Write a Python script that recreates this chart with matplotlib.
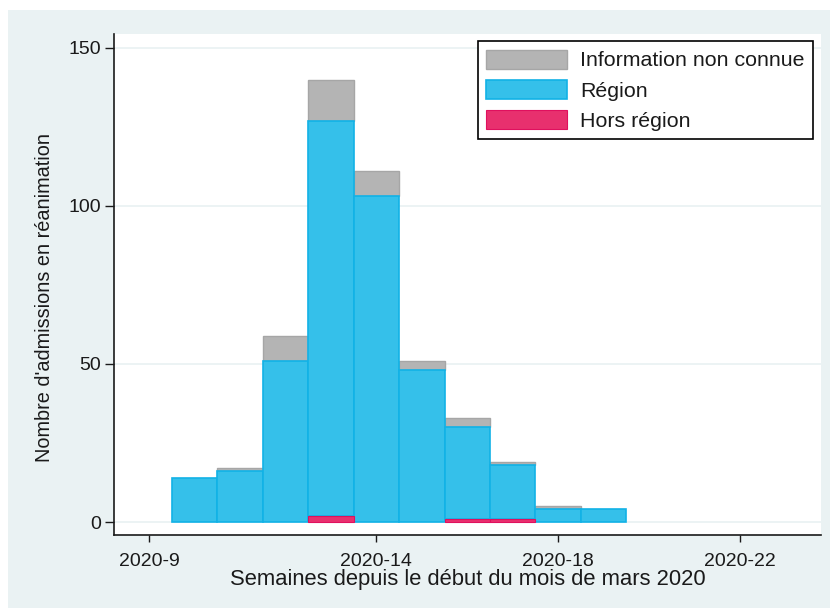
import matplotlib
matplotlib.use("Agg")
import matplotlib.pyplot as plt
from matplotlib.patches import Rectangle
import numpy as np

plt.rcParams['font.family'] = ['Liberation Sans', 'DejaVu Sans']

weeks = [10, 11, 12, 13, 14, 15, 16, 17, 18, 19]
hors_region = [0, 0, 0, 2, 0, 0, 1, 1, 0, 0]
region = [14, 16, 51, 125, 103, 48, 29, 17, 4, 4]
inconnue = [0, 1, 8, 13, 8, 3, 3, 1, 1, 0]

tick_pos = [9, 14, 18, 22]
tick_labels = ["2020-9", "2020-14", "2020-18", "2020-22"]
y_ticks = [0, 50, 100, 150]

W, H = 830, 608
fig = plt.figure(figsize=(W / 100, H / 100), dpi=100, facecolor='white')
bg = '#eaf2f3'
fig.patches.append(Rectangle((8 / W, 0), 1 - 8 / W, (H - 10) / H, transform=fig.transFigure,
                             facecolor=bg, edgecolor='none', zorder=-10))

ax = fig.add_axes([114 / W, (H - 535) / H, (821 - 114) / W, (535 - 34) / H])
ax.set_facecolor('white')

wk = np.array(weeks)
hors = np.array(hors_region)
reg = np.array(region)
unk = np.array(inconnue)

c_unk, e_unk = '#b4b4b4', '#a6a6a6'
c_reg, e_reg = '#35c0ea', '#12b2e6'
c_hor, e_hor = '#e8306e', '#e0105e'

m = unk > 0
b_unk = ax.bar(wk[m], unk[m], bottom=(hors + reg)[m], width=1.0, color=c_unk, edgecolor=e_unk,
               linewidth=1.0, zorder=3, label='Information non connue')
m = reg > 0
b_reg = ax.bar(wk[m], reg[m], bottom=hors[m], width=1.0, color=c_reg, edgecolor=e_reg,
               linewidth=1.2, zorder=3, label='Région')
m = hors > 0
b_hor = ax.bar(wk[m], hors[m], width=1.0, color=c_hor, edgecolor=e_hor,
               linewidth=0.8, zorder=3, label='Hors région')

ax.set_xlim(8.23, 23.78)
ax.set_ylim(-4.11, 154.4)

for y in y_ticks:
    ax.axhline(y, color=bg, linewidth=1.3, zorder=1)

ax.set_xticks(tick_pos)
ax.set_xticklabels(tick_labels)
ax.set_yticks(y_ticks)
ax.tick_params(axis='x', length=5, width=1, pad=8, labelsize=14, colors='#1a1a1a')
ax.tick_params(axis='y', length=6.5, width=1, pad=3, labelsize=14, colors='#1a1a1a')

for s in ['top', 'right']:
    ax.spines[s].set_visible(False)
for s in ['left', 'bottom']:
    ax.spines[s].set_linewidth(1.2)
    ax.spines[s].set_color('#1a1a1a')

ax.set_xlabel("Semaines depuis le début du mois de mars 2020", fontsize=15.8, color='#1a1a1a')
ax.xaxis.set_label_coords(0.5, (535 - 579) / 501)
ax.xaxis.label.set_va('center')
ax.set_ylabel("Nombre d'admissions en réanimation", fontsize=14.3, color='#1a1a1a')
ax.yaxis.set_label_coords((45 - 114) / 707, (535 - 298) / 501)
ax.yaxis.label.set_va('center')

leg = ax.legend(handles=[b_unk, b_reg, b_hor], loc='upper right',
                bbox_to_anchor=(813 / W, (H - 41) / H), bbox_transform=fig.transFigure,
                fontsize=15.4, frameon=True, fancybox=False, borderaxespad=0,
                handlelength=3.75, handleheight=1.0, labelspacing=0.43,
                handletextpad=0.62, borderpad=0.4)
leg.get_frame().set_edgecolor('black')
leg.get_frame().set_linewidth(1.2)
leg.get_frame().set_alpha(1)
for t in leg.get_texts():
    t.set_color('#1a1a1a')
leg.set_zorder(10)

fig.savefig('out.png', dpi=100, facecolor=fig.get_facecolor())
